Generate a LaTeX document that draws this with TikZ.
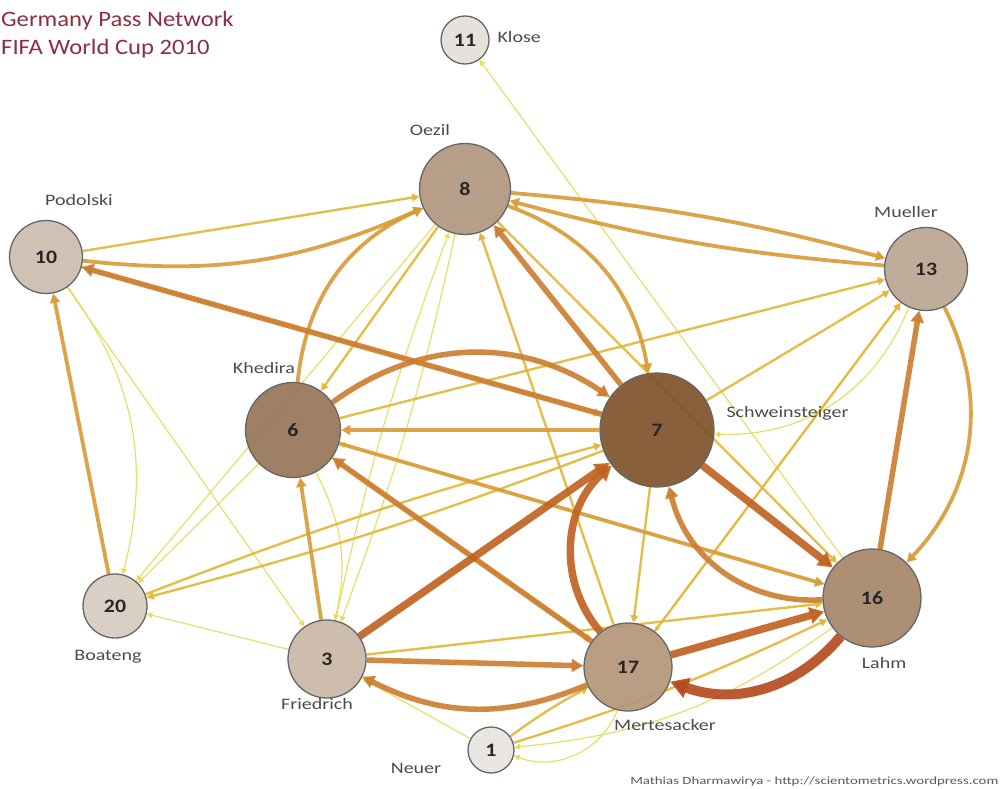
\documentclass[tikz,border=0pt]{standalone}
\usepackage{fontspec}
\setmainfont{Carlito}
\newfontfamily\lblfont{Carlito}[FakeStretch=1.25]
\newfontfamily\ttlfont{Carlito}[FakeStretch=1.12]
\newfontfamily\numfont{Carlito}[FakeStretch=1.15]
\newfontfamily\crfont{Carlito}[FakeStretch=1.35]
\usetikzlibrary{arrows.meta,backgrounds}
\definecolor{ca}{HTML}{E4DC58}
\definecolor{cb}{HTML}{E2B738}
\definecolor{cc}{HTML}{D99B35}
\definecolor{cd}{HTML}{CD7C2E}
\definecolor{ce}{HTML}{C0601E}
\definecolor{cf}{HTML}{B5471A}
\definecolor{titlec}{HTML}{8E2F3F}
\definecolor{f11}{HTML}{E5DFDA}
\definecolor{f8}{HTML}{B0967E}
\definecolor{f10}{HTML}{CBBCAD}
\definecolor{f13}{HTML}{BAA592}
\definecolor{f6}{HTML}{977658}
\definecolor{f7}{HTML}{80532C}
\definecolor{f20}{HTML}{D6CBC0}
\definecolor{f3}{HTML}{CAB7A5}
\definecolor{f17}{HTML}{B5967A}
\definecolor{f16}{HTML}{A5866A}
\definecolor{f1}{HTML}{E8E4E0}
\begin{document}
\begin{tikzpicture}[x=1pt,y=-1pt,
  pl/.style={circle, draw=black!60, line width=1.3pt, inner sep=0pt, minimum size=#1, fill opacity=0.92, text opacity=1, font=\fontsize{19}{19}\numfont\bfseries, text=black!85},
  lbl/.style={font=\fontsize{16}{16}\lblfont, text=black!70},
  e/.style={-{Triangle[length=4pt 1.4, width=4pt 1.6]}, opacity=0.9},
  ta/.style={e, line width=1.2pt, draw=ca},
  tb/.style={e, line width=2.4pt, draw=cb},
  tc/.style={e, line width=3.8pt, draw=cc},
  td/.style={e, line width=5.5pt, draw=cd},
  te/.style={e, line width=7.5pt, draw=ce},
  tf/.style={e, line width=10pt, draw=cf},
  bL/.style={bend left=#1},
  bR/.style={bend right=#1}]
\useasboundingbox (0,0) rectangle (1005,789);
% title
\node[anchor=base west, font=\fontsize{22}{22}\ttlfont, text=titlec, inner sep=0] (t1) at (1,27) {Germany Pass Network};
\node[anchor=base west, font=\fontsize{22}{22}\ttlfont, text=titlec, inner sep=0] (t2) at (1,55) {FIFA World Cup 2010};
% players
\node[pl=48, fill=f11] (n11) at (465,40) {11};
\node[pl=91, fill=f8] (n8) at (465,189) {8};
\node[pl=73, fill=f10] (n10) at (46,257) {10};
\node[pl=83, fill=f13] (n13) at (926,269) {13};
\node[pl=95, fill=f6] (n6) at (293,430) {6};
\node[pl=114, fill=f7] (n7) at (657,430) {7};
\node[pl=64, fill=f20] (n20) at (115,606) {20};
\node[pl=78, fill=f3] (n3) at (327,659) {3};
\node[pl=88, fill=f17] (n17) at (628,667) {17};
\node[pl=98, fill=f16] (n16) at (872,598) {16};
\node[pl=46, fill=f1] (n1) at (491,750) {1};
% labels
\node[lbl, anchor=west] (l11) at (494,37) {Klose};
\node[lbl] (l8) at (430,130) {Oezil};
\node[lbl] (l10) at (79,200) {Podolski};
\node[lbl] (l13) at (906,212) {Mueller};
\node[lbl] (l6) at (264,368) {Khedira};
\node[lbl, anchor=west] (l7) at (723,413) {Schweinsteiger};
\node[lbl] (l20) at (108,657) {Boateng};
\node[lbl] (l3) at (317,704) {Friedrich};
\node[lbl] (l17) at (665,725) {Mertesacker};
\node[lbl] (l16) at (884,663) {Lahm};
\node[lbl] (l1) at (416,768) {Neuer};
\node[anchor=east, font=\fontsize{11}{11}\crfont, text=black!65] (cr) at (1002,782) {Mathias Dharmawirya - http://scientometrics.wordpress.com};
\begin{pgfonlayer}{background}
\fill[white] (0,0) rectangle (1005,789);
% thin
\draw[ta, bL=25] (n10) to (n20);
\draw[ta] (n10) to (n3);
\draw[ta] (n6) to (n20);
\draw[ta] (n8) to (n20);
\draw[ta] (n3) to (n20);
\draw[ta] (n16) to (n11);
\draw[ta, bL=4] (n8) to (n3);
\draw[ta, bL=4] (n3) to (n8);
\draw[ta, bL=35] (n13) to (n7);
\draw[ta, bL=15] (n16) to (n1);
\draw[ta, bL=45] (n17) to (n1);
\draw[ta] (n1) to (n3);
\draw[ta] (n13) to (n17);
\draw[ta] (n16) to (n6);
\draw[ta, bL=20] (n6) to (n3);
% medium-thin
\draw[tb] (n8) to (n6);
\draw[tb, bL=3] (n7) to (n20);
\draw[tb, bL=3] (n20) to (n7);
\draw[tb] (n6) to (n13);
\draw[tb] (n7) to (n13);
\draw[tb] (n10) to (n7);
\draw[tb] (n8) to (n16);
\draw[tb] (n17) to (n8);
\draw[tb] (n3) to (n16);
\draw[tb, bL=4] (n1) to (n17);
\draw[tb, bR=4] (n1) to (n16);
\draw[tb] (n6) to (n17);
\draw[tb] (n7) to (n17);
\draw[tb] (n17) to (n13);
\draw[tb] (n10) to (n8);
% medium
\draw[tc, bR=15] (n10) to (n8);
\draw[tc] (n20) to (n10);
\draw[tc, bL=5] (n8) to (n13);
\draw[tc, bL=5] (n13) to (n8);
\draw[tc, bL=30] (n8) to (n7);
\draw[tc, bL=30] (n6) to (n8);
\draw[tc, bL=35] (n13) to (n16);
\draw[tc] (n7) to (n6);
\draw[tc] (n3) to (n6);
\draw[tc] (n6) to (n16);
% thick
\draw[td] (n7) to (n10);
\draw[td, bL=35] (n6) to (n7);
\draw[td] (n16) to (n13);
\draw[td] (n3) to (n17);
\draw[td] (n17) to (n6);
\draw[td, bL=25] (n17) to (n3);
\draw[td] (n7) to (n8);
\draw[td, bL=40] (n16) to (n7);
\draw[te] (n3) to (n7);
% very thick
\draw[te] (n7) to (n16);
\draw[te, bL=45] (n17) to (n7);
\draw[te] (n17) to (n16);
\draw[tf, bL=35] (n16) to (n17);
\end{pgfonlayer}
\end{tikzpicture}
\end{document}
